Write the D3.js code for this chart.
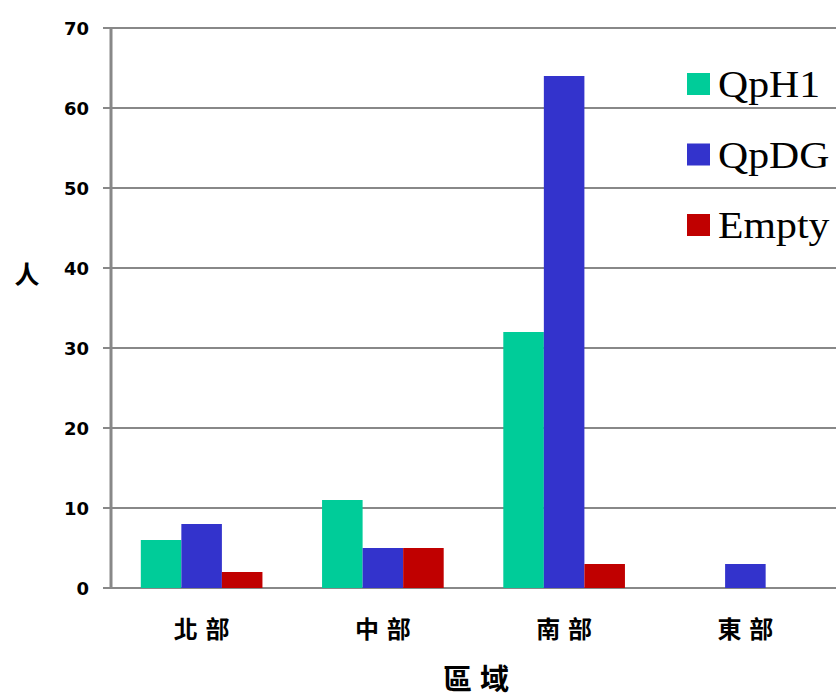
<!DOCTYPE html>
<html>
<head>
<meta charset="utf-8">
<script src="https://cdn.jsdelivr.net/npm/d3@7"></script>
<style>
body { margin: 0; background: #fff; }
svg { display: block; }
</style>
</head>
<body>
<svg id="chart" width="838" height="700"></svg>
<script>
var regions = ["北部", "中部", "南部", "東部"];
var seriesNames = ["QpH1", "QpDG", "Empty"];
var seriesColors = ["#00cc99", "#3333cc", "#c00000"];
var qph1 = [6, 11, 32, 0];
var qpdg = [8, 5, 64, 3];
var empty = [2, 5, 3, 0];
var yTicks = [0, 10, 20, 30, 40, 50, 60, 70];

var seriesValues = [qph1, qpdg, empty];

var svg = d3.select("#chart");
var plotLeft = 111, plotRight = 836, plotTop = 28, plotBottom = 588;

var x = d3.scaleBand().domain(regions).range([plotLeft, plotRight]);
var xInner = d3.scaleBand().domain(seriesNames)
	.range([0, x.bandwidth()]).paddingOuter(0.735);
var y = d3.scaleLinear().domain([0, 70]).range([plotBottom, plotTop]);

// gridlines
svg.append("g").selectAll("line")
	.data(yTicks).enter().append("line")
	.attr("x1", plotLeft - 8).attr("x2", plotRight)
	.attr("y1", function(d){ return y(d); })
	.attr("y2", function(d){ return y(d); })
	.attr("stroke", "#888").attr("stroke-width", 2);

// bars
var groups = svg.append("g").selectAll("g")
	.data(regions).enter().append("g")
	.attr("transform", function(d){ return "translate(" + x(d) + ",0)"; });

groups.selectAll("rect")
	.data(function(d, i){
		return seriesNames.map(function(s, j){
			return {name: s, value: seriesValues[j][i], color: seriesColors[j]};
		});
	})
	.enter().append("rect")
	.attr("x", function(d){ return xInner(d.name); })
	.attr("width", xInner.bandwidth())
	.attr("y", function(d){ return y(d.value); })
	.attr("height", function(d){ return y(0) - y(d.value); })
	.attr("fill", function(d){ return d.color; });

// y axis line
svg.append("line")
	.attr("x1", plotLeft).attr("x2", plotLeft)
	.attr("y1", plotTop).attr("y2", plotBottom + 1)
	.attr("stroke", "#888").attr("stroke-width", 3);

// y tick labels
svg.append("g").selectAll("text")
	.data(yTicks).enter().append("text")
	.attr("x", 89)
	.attr("y", function(d){ return y(d) + 7; })
	.attr("text-anchor", "end")
	.style("font-family", "DejaVu Sans, sans-serif")
	.style("font-weight", "bold")
	.style("font-size", "18px")
	.text(function(d){ return d; });

// x labels
svg.append("g").selectAll("text")
	.data(regions).enter().append("text")
	.attr("x", function(d){ return x(d) + x.bandwidth() / 2 + 4; })
	.attr("y", 638)
	.attr("text-anchor", "middle")
	.style("font-family", "Noto Sans CJK TC, sans-serif")
	.style("font-weight", "bold")
	.style("font-size", "24px")
	.style("letter-spacing", "8px")
	.text(function(d){ return d; });

// axis titles
svg.append("text")
	.attr("x", 480).attr("y", 690)
	.attr("text-anchor", "middle")
	.style("font-family", "Noto Sans CJK TC, sans-serif")
	.style("font-weight", "bold")
	.style("font-size", "29px")
	.style("letter-spacing", "8px")
	.text("區域");

svg.append("text")
	.attr("x", 27).attr("y", 284)
	.attr("text-anchor", "middle")
	.style("font-family", "Noto Sans CJK TC, sans-serif")
	.style("font-weight", "bold")
	.style("font-size", "25px")
	.text("人");

// legend
var legend = svg.append("g").selectAll("g")
	.data(seriesNames).enter().append("g")
	.attr("transform", function(d, i){ return "translate(687," + (73 + i * 70.5) + ")"; });

legend.append("rect")
	.attr("width", 23).attr("height", 22)
	.attr("fill", function(d, i){ return seriesColors[i]; });

legend.append("text")
	.attr("transform", "translate(31,24) scale(1.13,1)")
	.style("font-family", "Liberation Serif, serif")
	.style("font-size", "37px")
	.text(function(d){ return d; });
</script>
</body>
</html>
